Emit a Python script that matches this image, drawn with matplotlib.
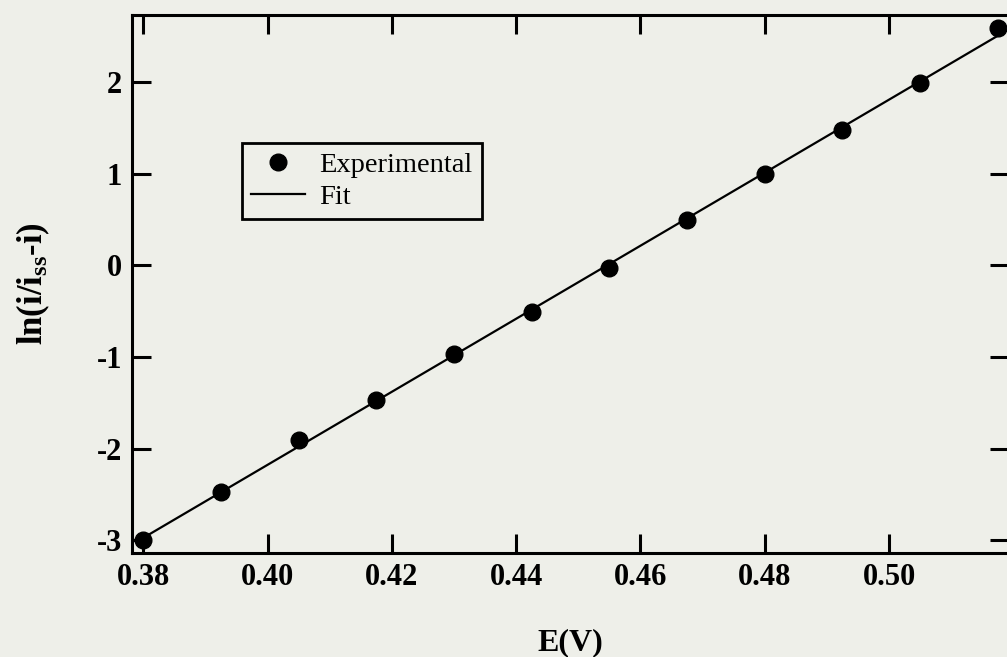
import numpy as np
import matplotlib
matplotlib.use("Agg")
import matplotlib.pyplot as plt

# Potential (V) and linearised current ln(i/(i_ss - i))
potential = [0.3800, 0.3925, 0.4050, 0.4175, 0.4300, 0.4425,
             0.4550, 0.4675, 0.4800, 0.4925, 0.5050, 0.5175]
ln_ratio = [-3.00, -2.47, -1.91, -1.47, -0.97, -0.51,
            -0.03, 0.49, 0.99, 1.47, 1.99, 2.59]

x_ticks = [0.38, 0.40, 0.42, 0.44, 0.46, 0.48, 0.50]
x_tick_labels = ["0.38", "0.40", "0.42", "0.44", "0.46", "0.48", "0.50"]
y_ticks = [-3, -2, -1, 0, 1, 2]
y_tick_labels = ["-3", "-2", "-1", "0", "1", "2"]

bg = "#eeefe9"
plt.rcParams["font.family"] = ["Liberation Serif", "DejaVu Serif"]
plt.rcParams["mathtext.fontset"] = "custom"
plt.rcParams["mathtext.rm"] = "Liberation Serif:bold"
plt.rcParams["mathtext.it"] = "Liberation Serif:bold"
plt.rcParams["mathtext.bf"] = "Liberation Serif:bold"

fig = plt.figure(figsize=(10.07, 6.57), dpi=100, facecolor=bg)
ax = fig.add_axes([0.1311, 0.1583, 0.8709, 0.8189], facecolor=bg)

# Linear fit through the measured points
slope, intercept = np.polyfit(potential, ln_ratio, 1)
x_fit = np.array([potential[0], 0.5195])
ax.plot(x_fit, slope * x_fit + intercept, color="black", lw=1.6, label="Fit", zorder=2)
ax.plot(potential, ln_ratio, "o", color="black", ms=12, label="Experimental",
        zorder=3, clip_on=False)

ax.set_xlim(0.3782, 0.5193)
ax.set_ylim(-3.14, 2.73)
ax.set_xticks(x_ticks)
ax.set_xticklabels(x_tick_labels)
ax.set_yticks(y_ticks)
ax.set_yticklabels(y_tick_labels)

for s in ax.spines.values():
    s.set_linewidth(2.2)
ax.tick_params(direction="in", length=14, width=2.2, top=True, right=True,
               labelsize=22, pad=7)
for lab in ax.get_xticklabels() + ax.get_yticklabels():
    lab.set_fontweight("bold")
ax.tick_params(axis="y", pad=7)

ax.set_xlabel("E(V)", fontsize=23, fontweight="bold", labelpad=26)
ax.set_ylabel(r"ln(i/i$_{\mathbf{ss}}$-i)", fontsize=25, fontweight="bold", labelpad=32)

handles, labels = ax.get_legend_handles_labels()
leg = ax.legend(handles[::-1], labels[::-1], loc="upper left",
                bbox_to_anchor=(0.1254, 0.762), fontsize=20.5, frameon=True,
                fancybox=False, edgecolor="black", facecolor=bg, framealpha=1,
                handlelength=1.9, handletextpad=0.5, borderpad=0.32,
                labelspacing=0.2, borderaxespad=0)
leg.get_frame().set_linewidth(2.0)

fig.savefig("out.png", dpi=100, facecolor=bg)
